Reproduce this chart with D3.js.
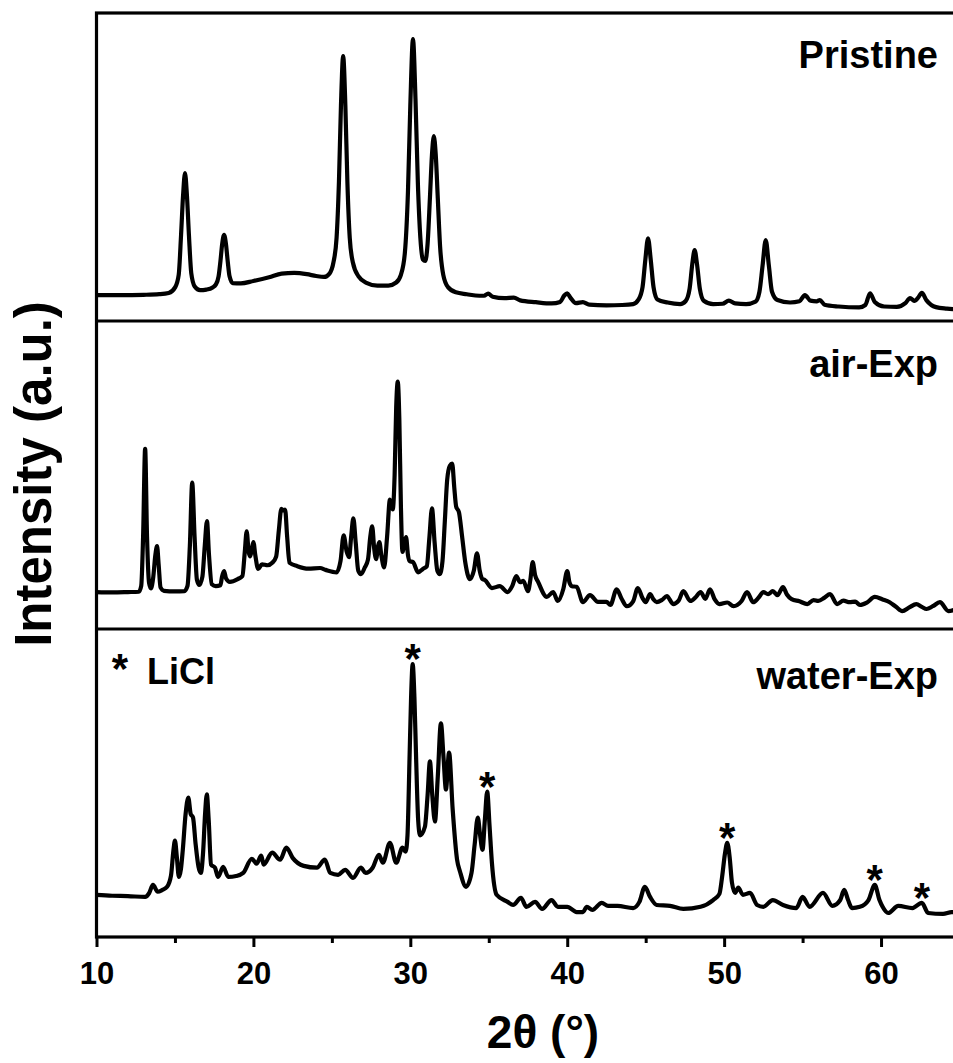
<!DOCTYPE html>
<html>
<head>
<meta charset="utf-8">
<script src="https://cdn.jsdelivr.net/npm/d3@7"></script>
<style>
  html, body { margin: 0; padding: 0; background: #fff; }
  svg { display: block; }
  text { font-family: "Liberation Sans", Arial, Helvetica, sans-serif; font-weight: bold; fill: #000; }
</style>
</head>
<body>
<svg id="chart" width="953" height="1063"></svg>
<script>
// XRD patterns: [2θ (deg), intensity (a.u.)]
const pristine = [
  [10.0, 8.4],[11.5, 8.4],[13.0, 8.5],[14.0, 8.7],[14.6, 9.1],[15.02, 11.0],[15.24, 15.0],[15.39, 28],[15.52, 41],[15.64, 48],
  [15.76, 41],[15.89, 28],[16.04, 15.5],[16.26, 11.2],[16.6, 10.0],[17.0, 10.2],[17.4, 10.9],[17.6, 11.8],[17.78, 14.5],[17.9, 19.5],
  [18.01, 25],[18.13, 28],[18.25, 25],[18.36, 19.5],[18.48, 14.5],[18.68, 12.3],[19.2, 12.2],[20.0, 13.0],[21.0, 14.2],[21.8, 15.4],
  [22.6, 15.6],[23.4, 15.2],[24.0, 14.6],[24.5, 14.3],[24.85, 15.4],[25.1, 19],[25.3, 27],[25.45, 45],[25.58, 70],[25.72, 86],
  [25.86, 70],[25.99, 45],[26.14, 27],[26.34, 19],[26.7, 14.5],[27.2, 12.4],[27.9, 11.5],[28.6, 11.5],[29.1, 12.5],[29.4, 15],
  [29.65, 22],[29.85, 42],[30.0, 70],[30.17, 91.5],[30.33, 72],[30.48, 45],[30.64, 27],[30.8, 20],[30.95, 19.5],[31.1, 25],
  [31.25, 40],[31.38, 54],[31.5, 60],[31.62, 54],[31.75, 40],[31.9, 24],[32.1, 15],[32.4, 11],[32.9, 9.3],[33.6, 8.7],
  [34.4, 8.2],[34.7, 8.2],[34.96, 8.9],[35.25, 7.9],[36.0, 7.4],[36.6, 7.6],[37.0, 6.7],[38.0, 6.1],[39.0, 5.7],[39.55, 6.2],
  [39.8, 8.2],[40.0, 9.0],[40.2, 7.6],[40.55, 5.8],[41.0, 6.1],[41.4, 5.3],[42.5, 5.1],[43.5, 5.2],[44.2, 5.5],[44.55, 7.0],
  [44.8, 11],[44.98, 20],[45.15, 26.8],[45.32, 20],[45.5, 11],[45.75, 7.0],[46.4, 6.0],[47.2, 5.5],[47.55, 6.5],[47.8, 10.5],
  [47.97, 18.5],[48.12, 23],[48.27, 18.5],[48.45, 10.5],[48.7, 6.6],[49.3, 5.5],[49.9, 5.6],[50.3, 6.6],[50.7, 5.7],[51.4, 5.5],
  [52.0, 6.3],[52.25, 9.5],[52.45, 18],[52.65, 26.3],[52.85, 18],[53.05, 9.5],[53.4, 6.8],[54.2, 6.0],[54.8, 6.4],[55.15, 8.4],
  [55.5, 6.6],[55.9, 6.4],[56.1, 6.8],[56.4, 5.3],[57.3, 4.7],[58.6, 4.4],[59.0, 5.2],[59.3, 9.0],[59.6, 6.2],[60.2, 4.7],
  [61.0, 4.6],[61.55, 5.8],[61.85, 7.4],[62.15, 6.5],[62.35, 7.5],[62.6, 9.1],[62.9, 6.7],[63.5, 4.5],[64.2, 4.0],[65.0, 3.7]
];

const airExp = [
  [10.0, 12.0],[11.0, 11.9],[12.0, 12.0],[12.7, 12.1],[12.85, 14],[12.97, 30],[13.1, 58.5],[13.22, 30],[13.35, 15],[13.47, 13.2],
  [13.62, 17],[13.75, 24],[13.86, 26.9],[13.96, 21],[14.08, 13.5],[14.3, 12.4],[15.0, 12.2],[15.6, 12.3],[15.8, 14],[15.95, 27],
  [16.1, 47.5],[16.25, 30],[16.4, 16],[16.55, 14.3],[16.75, 17],[16.9, 27],[17.04, 35],[17.17, 24],[17.35, 14.5],[17.6, 13.9],
  [17.9, 14.2],[18.0, 17],[18.13, 18.8],[18.25, 16.5],[18.5, 15.3],[19.0, 16.2],[19.3, 17.2],[19.45, 25],[19.57, 31.7],[19.7, 25],
  [19.8, 23.6],[19.9, 26],[20.0, 28.2],[20.12, 24],[20.3, 19.5],[20.55, 21],[20.9, 20.7],[21.2, 21.5],[21.45, 23.5],[21.62, 32],
  [21.78, 39],[21.9, 38.5],[22.02, 38.8],[22.15, 30],[22.3, 21.5],[22.8, 20.4],[23.5, 19.6],[24.25, 19.8],[24.6, 19.2],[25.3, 18.4],
  [25.55, 22],[25.75, 30.4],[25.95, 25],[26.1, 23.3],[26.23, 30],[26.37, 35.9],[26.52, 28],[26.68, 19],[26.85, 17.8],[27.1, 20],
  [27.3, 22.5],[27.45, 30],[27.57, 33.3],[27.7, 26],[27.82, 22.7],[27.95, 27],[28.03, 28.2],[28.15, 24],[28.33, 20],[28.52, 30],
  [28.7, 42],[28.88, 38.8],[29.0, 50],[29.1, 72],[29.2, 80.3],[29.3, 68],[29.4, 40],[29.5, 25],[29.62, 28],[29.73, 29.8],
  [29.85, 24],[29.97, 22],[30.17, 21.7],[30.5, 18.4],[30.8, 19.5],[31.05, 20.4],[31.22, 30],[31.38, 39.2],[31.55, 28],[31.72, 19],
  [31.88, 17.8],[32.05, 22],[32.2, 35],[32.35, 48.5],[32.52, 53],[32.67, 53.7],[32.8, 46],[32.92, 39.8],[33.1, 37.9],[33.3, 30],
  [33.5, 21.7],[33.8, 16.2],[34.05, 19],[34.25, 24.6],[34.42, 19],[34.6, 16.2],[34.75, 15.9],[35.2, 13.3],[35.7, 13.9],[36.2, 12.0],
  [36.5, 14],[36.75, 17.2],[37.0, 15.2],[37.2, 15.6],[37.5, 12.3],[37.65, 16],[37.8, 21.7],[37.95, 17.5],[38.15, 15.2],[38.7, 10.4],
  [39.1, 12.0],[39.4, 9.1],[39.75, 13],[40.0, 18.8],[40.15, 15],[40.3, 13.9],[40.6, 13.7],[41.0, 8.7],[41.45, 11.0],[41.96, 8.8],
  [42.5, 8.8],[42.75, 7.8],[43.15, 12.9],[43.45, 10],[43.8, 7.4],[44.2, 9],[44.5, 13.3],[44.8, 10],[45.0, 8.7],[45.28, 11.3],
  [45.5, 9.6],[45.7, 8.7],[46.05, 9.5],[46.35, 10.7],[46.75, 8.1],[47.1, 9.2],[47.4, 12.3],[47.85, 9.1],[48.2, 10.4],[48.5, 12.0],
  [48.8, 9.8],[49.1, 12.9],[49.4, 9.6],[49.7, 8.1],[50.2, 8.6],[50.6, 7.4],[51.1, 9],[51.46, 12.0],[51.85, 8.7],[52.2, 10.2],
  [52.5, 12],[52.8, 11.3],[53.1, 12.3],[53.4, 11],[53.75, 13.6],[54.0, 11.2],[54.3, 9.7],[54.8, 9.0],[55.3, 8.1],[55.7, 9.4],
  [56.0, 9.1],[56.4, 10.2],[56.75, 11.3],[57.2, 8.1],[57.6, 9.2],[58.0, 8.7],[58.35, 8.9],[58.65, 7.8],[59.1, 8.6],[59.6, 10.4],
  [60.1, 9.6],[60.55, 8.7],[60.95, 7.2],[61.35, 5.8],[61.8, 7.0],[62.25, 8.1],[62.6, 7.2],[62.9, 6.5],[63.3, 7.4],[63.75, 8.7],
  [64.3, 5.8],[65.0, 7.0]
];

const waterExp = [
  [10.0, 13.7],[11.0, 13.4],[12.0, 13.3],[13.1, 13.0],[13.35, 14.2],[13.6, 16.9],[13.9, 14.7],[14.2, 15.3],[14.5, 16.3],[14.75, 20],
  [14.9, 28],[15.0, 31.3],[15.12, 26],[15.25, 19.5],[15.38, 22],[15.5, 28.3],[15.68, 40],[15.85, 45.3],[16.0, 40],[16.15, 38.8],
  [16.32, 30],[16.5, 22.8],[16.65, 20.8],[16.8, 28],[16.92, 40],[17.03, 46.3],[17.15, 38],[17.3, 23.5],[17.55, 22.5],[17.75, 19.5],
  [18.07, 22.8],[18.4, 19.5],[18.9, 19.8],[19.35, 20.8],[19.9, 25.4],[20.2, 23.8],[20.5, 26.4],[20.65, 23.5],[21.2, 27.4],[21.7, 25.1],
  [22.1, 29.0],[22.5, 25.7],[23.2, 23.1],[24.05, 22.5],[24.55, 25.1],[24.9, 20.8],[25.4, 20.2],[25.85, 21.8],[26.35, 19.2],[26.85, 22.5],
  [27.15, 20.8],[27.6, 22.5],[28.0, 26.7],[28.25, 24.1],[28.7, 30.6],[29.1, 24.1],[29.5, 29.0],[29.7, 27.7],[29.82, 33],[29.95, 58],
  [30.05, 78],[30.15, 88.6],[30.26, 78],[30.37, 58],[30.5, 38],[30.62, 33],[30.93, 35.8],[31.1, 46],[31.25, 57],[31.4, 46],
  [31.57, 37.5],[31.75, 52],[31.95, 69.4],[32.12, 58],[32.27, 47.9],[32.47, 59.9],[32.7, 41.4],[32.98, 25.1],[33.17, 21.2],[33.55, 16.3],
  [33.9, 20.8],[34.1, 30],[34.3, 38.8],[34.45, 33],[34.6, 28.3],[34.75, 38],[34.9, 47.2],[35.05, 36],[35.2, 24.1],[35.5, 13.7],
  [36.2, 11.4],[36.55, 10.4],[37.05, 12.7],[37.4, 9.8],[37.95, 11.4],[38.4, 9.1],[39.0, 12.0],[39.4, 9.8],[40.0, 9.8],[40.6, 8.1],
  [41.0, 8.1],[41.25, 9.8],[41.6, 8.8],[42.2, 11.1],[42.6, 10.1],[43.2, 10.1],[44.2, 9.4],[44.6, 11.4],[44.95, 16.3],[45.28, 13.0],
  [45.7, 10.4],[46.55, 10.1],[47.4, 9.1],[48.5, 9.8],[49.3, 12.0],[49.7, 14],[49.87, 19.5],[50.05, 27],[50.2, 30.6],[50.35, 26],
  [50.5, 17.6],[50.7, 14.3],[50.9, 16.0],[51.2, 13.7],[51.65, 14.3],[52.1, 10.4],[52.5, 9.8],[53.1, 12.0],[53.75, 10.4],[54.6, 9.4],
  [55.0, 13.0],[55.45, 9.8],[56.3, 14.3],[56.9, 10.1],[57.4, 12],[57.65, 15.3],[57.9, 12],[58.15, 9.4],[58.65, 9.8],[59.2, 12],
  [59.6, 16.9],[59.9, 12],[60.1, 9.8],[60.45, 7.8],[61.1, 10.1],[62.0, 9.4],[62.6, 11.1],[63.0, 7.8],[63.95, 7.5],[64.5, 8.1],
  [65.0, 8.0]
];

// Sample names, top to bottom
const sampleNames = ["Pristine", "air-Exp", "water-Exp"];
const sampleData = [pristine, airExp, waterExp];

// LiCl reflections marked in the water-exposed pattern
const liclPeaks = [30.15, 34.9, 50.2, 59.6, 62.6];

// Axis ticks
const majorTicks = [10, 20, 30, 40, 50, 60];
const minorTicks = [15, 25, 35, 45, 55, 65];
const xDomain = [10, 65];
const yDomain = [0, 100];

// ---- layout ----
const svg = d3.select("#chart");
const plotLeft = 96.5, plotRight = 959.5, plotTop = 13, plotBottom = 937;
const panelH = (plotBottom - plotTop) / sampleNames.length;

svg.append("rect").attr("width", 953).attr("height", 1063).attr("fill", "#fff");

const x = d3.scaleLinear().domain(xDomain).range([plotLeft, plotRight]);

svg.append("defs").append("clipPath").attr("id", "plotClip")
  .append("rect").attr("x", plotLeft).attr("y", plotTop)
  .attr("width", plotRight - plotLeft).attr("height", plotBottom - plotTop);

const line = d3.line().curve(d3.curveMonotoneX);

const panels = sampleNames.map((name, i) => {
  const top = plotTop + i * panelH;
  const bottom = top + panelH;
  const y = d3.scaleLinear().domain(yDomain).range([bottom, top]);
  return { name, data: sampleData[i], top, bottom, y };
});

// traces
const traces = svg.append("g").attr("clip-path", "url(#plotClip)");
panels.forEach(p => {
  traces.append("path")
    .attr("d", line.x(d => x(d[0])).y(d => p.y(d[1]))(p.data))
    .attr("fill", "none")
    .attr("stroke", "#000")
    .attr("stroke-width", 4.2)
    .attr("stroke-linejoin", "round");
});

// frame and panel separators
svg.append("rect")
  .attr("x", plotLeft).attr("y", plotTop)
  .attr("width", plotRight - plotLeft).attr("height", plotBottom - plotTop)
  .attr("fill", "none").attr("stroke", "#000").attr("stroke-width", 3.2);
panels.slice(1).forEach(p => {
  svg.append("line")
    .attr("x1", plotLeft).attr("x2", plotRight)
    .attr("y1", p.top).attr("y2", p.top)
    .attr("stroke", "#000").attr("stroke-width", 3.2);
});

// sample labels
panels.forEach((p, i) => {
  const baselines = [55, 56, 60];
  svg.append("text")
    .attr("x", 938).attr("y", p.top + baselines[i])
    .attr("text-anchor", "end")
    .attr("font-size", 38)
    .text(p.name);
});

// LiCl markers
const water = panels[2];
liclPeaks.forEach(t => {
  const near = waterExp.filter(d => Math.abs(d[0] - t) < 0.3);
  const peak = d3.greatest(near, d => d[1]);
  svg.append("text")
    .attr("x", x(t))
    .attr("y", water.y(peak[1]) - 15 + 24)
    .attr("text-anchor", "middle")
    .attr("font-size", 42)
    .text("*");
});
svg.append("text").attr("x", 120).attr("y", water.top + 54)
  .attr("text-anchor", "middle").attr("font-size", 42).text("*");
svg.append("text").attr("x", 147).attr("y", water.top + 55)
  .attr("font-size", 36).text("LiCl");

// x axis
const xAxis = d3.axisBottom(x).tickValues(majorTicks).tickSize(10).tickPadding(15)
  .tickFormat(d3.format("d"));
const gx = svg.append("g").attr("transform", `translate(0,${plotBottom})`).call(xAxis);
gx.select(".domain").remove();
gx.selectAll(".tick line").attr("stroke", "#000").attr("stroke-width", 3);
gx.selectAll(".tick text").attr("font-size", 31).attr("font-family", null).attr("fill", "#000");
gx.attr("font-family", null);

const gxm = svg.append("g").attr("transform", `translate(0,${plotBottom})`)
  .call(d3.axisBottom(x).tickValues(minorTicks.filter(t => x(t) < 953)).tickSize(6).tickFormat(""));
gxm.select(".domain").remove();
gxm.selectAll(".tick line").attr("stroke", "#000").attr("stroke-width", 3);

// axis titles
svg.append("text")
  .attr("x", 543).attr("y", 1048)
  .attr("text-anchor", "middle")
  .attr("font-size", 46)
  .text("2θ (°)");

svg.append("text")
  .attr("transform", "translate(51,474) rotate(-90)")
  .attr("text-anchor", "middle")
  .attr("font-size", 51)
  .text("Intensity (a.u.)");
</script>
</body>
</html>
